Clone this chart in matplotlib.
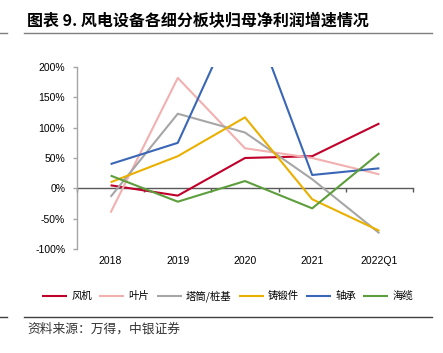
import matplotlib
matplotlib.use("Agg")
import matplotlib.pyplot as plt
from matplotlib.ticker import FuncFormatter
from matplotlib.lines import Line2D

categories = ["2018", "2019", "2020", "2021", "2022Q1"]
series_names = ["风机", "叶片", "塔筒/桩基", "铸锻件", "轴承", "海缆"]
fengji = [5, -12, 50, 53, 107]
yepian = [-40, 182, 66, 50, 23]
tatong = [-14, 123, 92, 15, -74]
zhuduan = [10, 53, 117, -18, -70]
zhoucheng = [40, 75, 318, 22, 33]
hailan = [21, -22, 12, -33, 58]
series_values = [fengji, yepian, tatong, zhuduan, zhoucheng, hailan]
colors = ["#C0002A", "#F2B0B0", "#A6A6A6", "#EAB000", "#3A66B6", "#5D9E3C"]
yticks = [-100, -50, 0, 50, 100, 150, 200]

cjk = ["Noto Sans CJK SC", "DejaVu Sans"]
lat = ["Liberation Sans", "DejaVu Sans"]

fig = plt.figure(figsize=(4.43, 3.53), dpi=100)
ax = fig.add_axes([77/443, 1-249/353, (413-77)/443, (249-67)/353])

x = list(range(len(categories)))
handles = []
for name, vals, c in zip(series_names, series_values, colors):
    h, = ax.plot(x, vals, color=c, lw=1.5, label=name, solid_capstyle="butt")
    handles.append(h)

ax.set_xlim(-0.5, len(categories) - 0.5)
ax.set_ylim(-100, 200)
ax.set_yticks(yticks)
ax.yaxis.set_major_formatter(FuncFormatter(lambda v, p: f"{int(v)}%"))
ax.set_xticks(x)
ax.set_xticklabels(categories)

for s in ["top", "right", "bottom"]:
    ax.spines[s].set_visible(False)
ax.spines["left"].set_color("#A6A6A6")
ax.spines["left"].set_linewidth(1.0)
ax.tick_params(axis="y", length=3, width=1.0, color="#A6A6A6", pad=5.5,
               labelsize=7.5, labelcolor="#000000")
ax.tick_params(axis="x", length=0, pad=5, labelsize=7.5)
for lab in ax.get_xticklabels() + ax.get_yticklabels():
    lab.set_family(lat)

# zero axis line with category-boundary ticks
zero_loc = (0 - (-100)) / 300
sec = ax.secondary_xaxis(zero_loc)
sec.set_xticks([i - 0.5 for i in range(len(categories) + 1)])
sec.set_xticklabels([])
sec.spines["bottom"].set_color("#595959")
sec.spines["bottom"].set_linewidth(1.0)
sec.tick_params(axis="x", length=3, width=1.0, color="#595959", direction="out")
sec.set_zorder(0.5)

leg = fig.legend(handles=handles, loc="center", bbox_to_anchor=(0.514, 1-296/353),
                 ncol=6, frameon=False, handlelength=2.4, handletextpad=0.4,
                 columnspacing=0.7, prop={"family": cjk, "size": 7.5})

fig.text(27/443, 1-21/353, "图表 9. 风电设备各细分板块归母净利润增速情况",
         family=cjk, fontsize=11.5, fontweight="bold", va="center", ha="left")
fig.add_artist(Line2D([24/443, 432/443], [1-33/353, 1-33/353], color="#7f7f7f", lw=1.0))
fig.add_artist(Line2D([0, 7/443], [1-33/353, 1-33/353], color="#7f7f7f", lw=1.0))
fig.add_artist(Line2D([24/443, 432/443], [1-317/353, 1-317/353], color="#404040", lw=1.0))
fig.add_artist(Line2D([0, 7/443], [1-317/353, 1-317/353], color="#404040", lw=1.0))
fig.text(27/443, 1-329/353, "资料来源：万得，中银证券", family=cjk, fontsize=9.2,
         style="italic", va="center", ha="left", color="#333333")

fig.savefig("out.png", dpi=100)
